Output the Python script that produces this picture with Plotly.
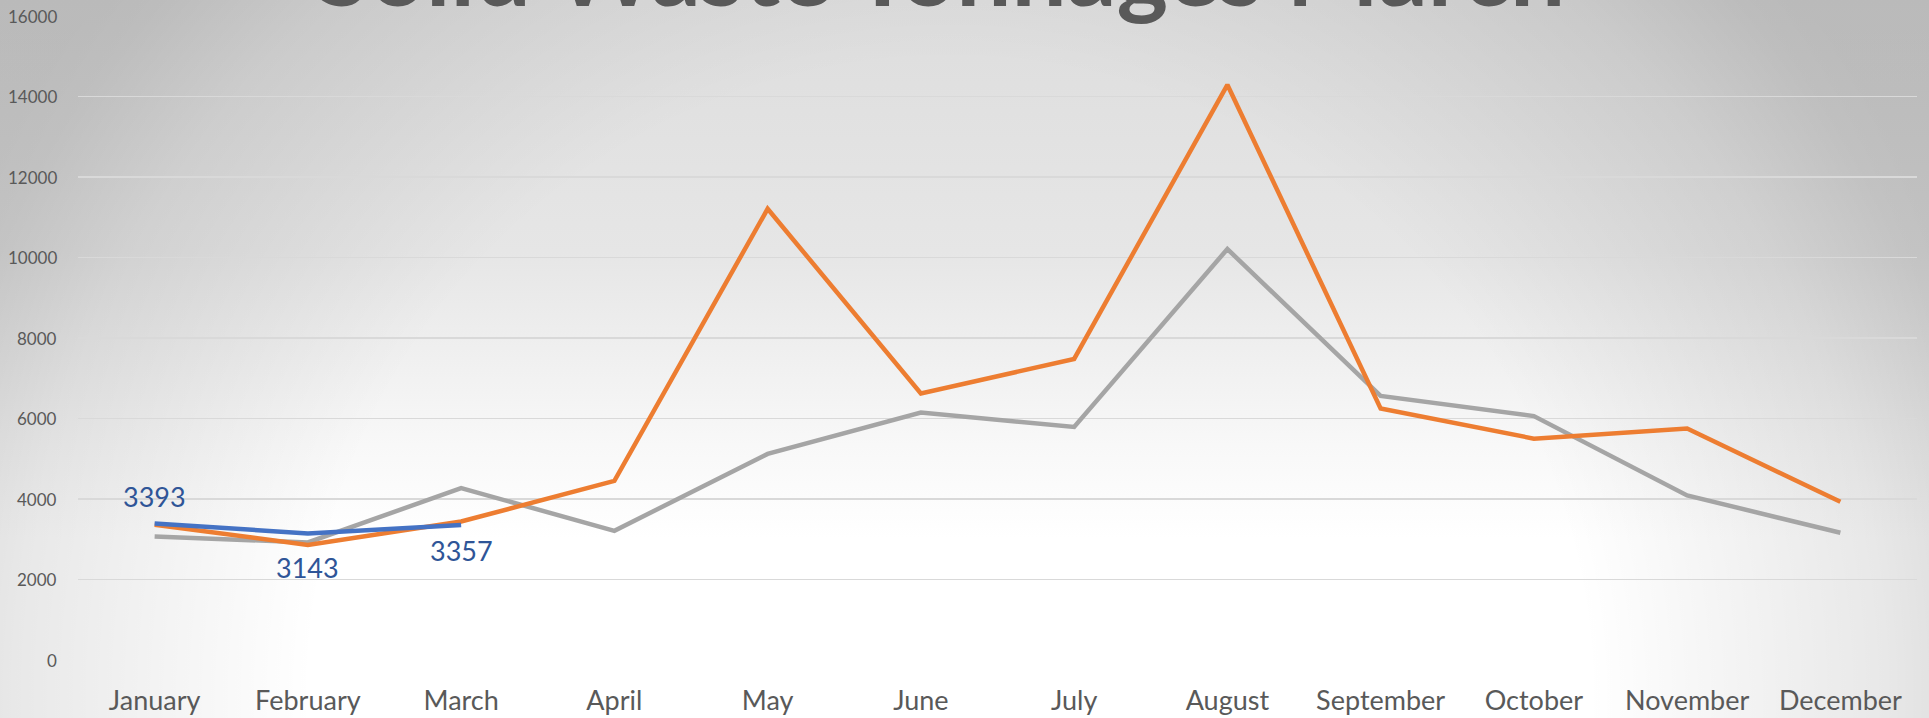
import base64
import plotly.graph_objects as go

months = ["January", "February", "March", "April", "May", "June", "July",
          "August", "September", "October", "November", "December"]
series_a_months = ["January", "February", "March"]
series_a = [3393, 3143, 3357]
series_a_label_shift = [27, -34, -26]
series_b = [3360, 2860, 3440, 4450, 11210, 6620, 7480, 14290, 6250, 5500, 5750, 3930]
series_c = [3070, 2920, 4270, 3210, 5120, 6150, 5790, 10210, 6560, 6060, 4090, 3160]
y_ticks = [0, 2000, 4000, 6000, 8000, 10000, 12000, 14000, 16000]
title_text = "Solid Waste Tonnages March"

W, H = 1929, 718
ML, MR, MT, MB = 78, 12, 16, 58
PW, PH = W - ML - MR, H - MT - MB

svg = f'''<svg xmlns="http://www.w3.org/2000/svg" width="{W}" height="{H}" viewBox="0 0 {W} {H}" preserveAspectRatio="none">
<defs>
<linearGradient id="v" x1="0" y1="0" x2="0" y2="{H}" gradientUnits="userSpaceOnUse">
<stop offset="0" stop-color="#DDDDDD"/>
<stop offset="0.35" stop-color="#E6E6E6"/>
<stop offset="0.62" stop-color="#F8F8F8"/>
<stop offset="0.75" stop-color="#FFFFFF"/>
<stop offset="1" stop-color="#FFFFFF"/>
</linearGradient>
<radialGradient id="r" cx="950" cy="700" r="1100" gradientUnits="userSpaceOnUse">
<stop offset="0" stop-color="#000" stop-opacity="0"/>
<stop offset="0.58" stop-color="#000" stop-opacity="0"/>
<stop offset="0.85" stop-color="#000" stop-opacity="0.09"/>
<stop offset="0.96" stop-color="#000" stop-opacity="0.15"/>
<stop offset="1" stop-color="#000" stop-opacity="0.16"/>
</radialGradient>
</defs>
<rect x="0" y="0" width="{W}" height="{H}" fill="url(#v)"/>
<rect x="0" y="0" width="{W}" height="{H}" fill="url(#r)"/>
</svg>'''
bg_src = "data:image/svg+xml;base64," + base64.b64encode(svg.encode()).decode()

FONT = "Lato"

fig = go.Figure()
fig.add_trace(go.Scatter(
    x=months, y=series_c, mode="lines", line=dict(color="#A5A5A5", width=4.5),
    hoverinfo="skip", showlegend=False))
fig.add_trace(go.Scatter(
    x=months, y=series_b, mode="lines", line=dict(color="#ED7D31", width=4.5),
    hoverinfo="skip", showlegend=False))
fig.add_trace(go.Scatter(
    x=series_a_months, y=series_a, mode="lines",
    line=dict(color="#4472C4", width=4.5),
    hoverinfo="skip", showlegend=False))

for m, v, ys in zip(series_a_months, series_a, series_a_label_shift):
    fig.add_annotation(
        x=m, y=v, xref="x", yref="y", text=str(v), showarrow=False,
        xanchor="center", yanchor="middle", yshift=ys,
        font=dict(family=FONT, size=27, color="#2F5597"))

# y-axis tick labels, placed as text next to the plot area
for t in y_ticks:
    fig.add_annotation(
        x=-19 / PW, y=t, xref="paper", yref="y", text=str(t), showarrow=False,
        xanchor="right", yanchor="middle",
        font=dict(family=FONT, size=17, color="#595959"))

fig.add_annotation(
    text=f"<b>{title_text}</b>", xref="paper", yref="paper",
    x=0.469, y=0.985, yshift=-3, xanchor="center", yanchor="bottom", showarrow=False,
    font=dict(family=FONT, size=98, color="#595959"))

fig.add_layout_image(dict(
    source=bg_src, xref="paper", yref="paper",
    x=-ML / PW, y=1 + MT / PH, sizex=W / PW, sizey=H / PH,
    xanchor="left", yanchor="top", sizing="stretch", layer="below"))

fig.update_layout(
    width=W, height=H,
    margin=dict(l=ML, r=MR, t=MT, b=MB, pad=0, autoexpand=False),
    paper_bgcolor="#FFFFFF", plot_bgcolor="rgba(0,0,0,0)",
    showlegend=False,
    font=dict(family=FONT, color="#595959"),
)
fig.update_xaxes(
    type="category", categoryorder="array", categoryarray=months,
    range=[-0.5, 11.5], showgrid=False, zeroline=False, showline=False,
    ticks="", tickfont=dict(family=FONT, size=27, color="#595959"),
    ticklabelstandoff=22, automargin=False)
fig.update_yaxes(
    range=[0, 16000], tickvals=y_ticks, showticklabels=False,
    showgrid=True, gridcolor="#D9D9D9", gridwidth=1.5,
    zeroline=False, showline=False, ticks="", automargin=False)

fig.write_html(
    "out.html",
    config={"displayModeBar": False, "staticPlot": True},
    post_script="document.body.style.margin='0';document.body.style.overflow='hidden';")
